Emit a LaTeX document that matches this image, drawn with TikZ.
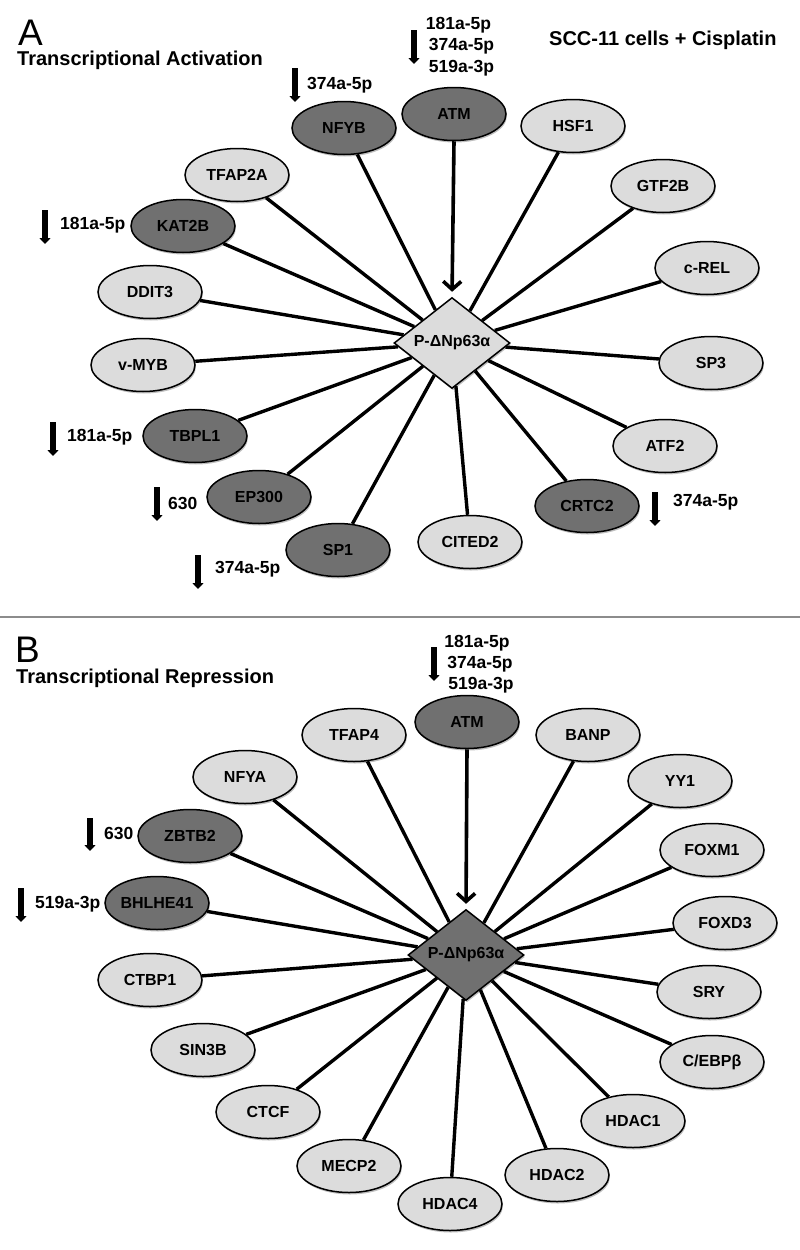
\documentclass[tikz,border=0pt]{standalone}
\usepackage{fontspec}
\setmainfont{Liberation Sans}
\usetikzlibrary{shapes.geometric,arrows.meta,shadows}
\definecolor{lightfill}{RGB}{220,220,220}
\definecolor{darkfill}{RGB}{112,112,112}
\definecolor{sepgray}{RGB}{140,140,140}
\begin{document}
\begin{tikzpicture}[x=1pt,y=-1pt,
  gene/.style={ellipse, draw=black, line width=1.5pt, minimum width=104pt, minimum height=53pt, inner sep=0pt,
    font=\fontsize{16}{19}\selectfont\bfseries,
    drop shadow={shadow xshift=1pt,shadow yshift=-2pt,opacity=0.25,fill=black}},
  genelight/.style={gene, fill=lightfill},
  genedark/.style={gene, fill=darkfill},
  hub/.style={diamond, draw=black, line width=1.5pt, minimum width=116pt, minimum height=74pt, inner sep=0pt,
    font=\fontsize{16}{19}\selectfont\bfseries,
    drop shadow={shadow xshift=1pt,shadow yshift=-2pt,opacity=0.25,fill=black}},
  conn/.style={line width=3.4pt},
  atmarrow/.style={line width=3.6pt, -{Straight Barb[length=8pt,width=18pt]}, shorten >=5pt},
  mirarr/.style={line width=5.5pt, -{Triangle[length=6pt,width=11pt]}},
  mirtxt/.style={inner sep=0pt, anchor=base west, font=\fontsize{17.5}{21}\selectfont\bfseries},
  mirstack/.style={inner sep=0pt, anchor=base, font=\fontsize{17.5}{21}\selectfont\bfseries},
  paneltitle/.style={inner sep=0pt, anchor=base west, font=\fontsize{20}{24}\selectfont\bfseries},
  panelletter/.style={inner sep=0pt, anchor=base west, font=\fontsize{37}{40}\selectfont}
]
\fill[white] (0,0) rectangle (800,1250);
\useasboundingbox (0,0) rectangle (800,1250);

% ---------------- Panel A ----------------
\node[panelletter] (letA) at (18,45) {A};
\node[paneltitle] (titA) at (17,65) {Transcriptional Activation};
\node[paneltitle] (cond) at (549,45) {SCC-11 cells + Cisplatin};

\node[hub, fill=lightfill] (dA) at (452,343) {P-ΔNp63α};

\node[genedark]  (atmA)   at (454,114) {ATM};
\node[genedark]  (nfyb)   at (344,128) {NFYB};
\node[genelight] (hsf1)   at (573,126) {HSF1};
\node[genelight] (tfap2a) at (237,175) {TFAP2A};
\node[genelight] (gtf2b)  at (663,186) {GTF2B};
\node[genedark]  (kat2b)  at (183,226) {KAT2B};
\node[genelight] (crel)   at (707,268) {c-REL};
\node[genelight] (ddit3)  at (150,292) {DDIT3};
\node[genelight] (sp3)    at (711,363) {SP3};
\node[genelight] (vmyb)   at (143,365) {v-MYB};
\node[genedark]  (tbpl1)  at (195,436) {TBPL1};
\node[genelight] (atf2)   at (665,446) {ATF2};
\node[genedark]  (ep300)  at (259,497) {EP300};
\node[genedark]  (crtc2)  at (587,506) {CRTC2};
\node[genedark]  (sp1)    at (338,550) {SP1};
\node[genelight] (cited2) at (470,542) {CITED2};

\foreach \n in {nfyb,hsf1,tfap2a,gtf2b,kat2b,crel,ddit3,sp3,vmyb,tbpl1,atf2,ep300,crtc2,sp1,cited2}
  \draw[conn] (\n) -- (dA);
\draw[atmarrow] (atmA.south) -- (dA.north);

% miRNA annotations A
\coordinate (mA1s) at (295,68);  \coordinate (mA1e) at (295,102);
\draw[mirarr] (mA1s) -- (mA1e);
\node[mirtxt] (tA1) at (307,89) {374a-5p};

\coordinate (mA2s) at (414,30);  \coordinate (mA2e) at (414,64);
\draw[mirarr] (mA2s) -- (mA2e);
\node[mirstack] (tA2a) at (458.5,29) {181a-5p};
\node[mirstack] (tA2b) at (461.5,50) {374a-5p};
\node[mirstack] (tA2c) at (461.5,72) {519a-3p};

\coordinate (mA3s) at (45,210);  \coordinate (mA3e) at (45,244);
\draw[mirarr] (mA3s) -- (mA3e);
\node[mirtxt] (tA3) at (60,229) {181a-5p};

\coordinate (mA4s) at (53,422);  \coordinate (mA4e) at (53,456);
\draw[mirarr] (mA4s) -- (mA4e);
\node[mirtxt] (tA4) at (67,441) {181a-5p};

\coordinate (mA5s) at (157,487); \coordinate (mA5e) at (157,521);
\draw[mirarr] (mA5s) -- (mA5e);
\node[mirtxt] (tA5) at (168,509) {630};

\coordinate (mA6s) at (198,555); \coordinate (mA6e) at (198,589);
\draw[mirarr] (mA6s) -- (mA6e);
\node[mirtxt] (tA6) at (215,573) {374a-5p};

\coordinate (mA7s) at (655,492); \coordinate (mA7e) at (655,526);
\draw[mirarr] (mA7s) -- (mA7e);
\node[mirtxt] (tA7) at (673,506) {374a-5p};

% separator
\coordinate (sepL) at (0,617); \coordinate (sepR) at (800,617);
\draw[sepgray, line width=1.2pt] (sepL) -- (sepR);

% ---------------- Panel B ----------------
\node[panelletter] (letB) at (15,662) {B};
\node[paneltitle] (titB) at (16,683) {Transcriptional Repression};

\node[hub, fill=darkfill] (dB) at (466,955) {P-ΔNp63α};

\node[genedark]  (atmB)    at (467,722) {ATM};
\node[genelight] (tfap4)   at (354,735) {TFAP4};
\node[genelight] (banp)    at (588,735) {BANP};
\node[genelight] (nfya)    at (245,777) {NFYA};
\node[genelight] (yy1)     at (680,781) {YY1};
\node[genedark]  (zbtb2)   at (190,836) {ZBTB2};
\node[genelight] (foxm1)   at (712,850) {FOXM1};
\node[genedark]  (bhlhe41) at (157,903) {BHLHE41};
\node[genelight] (foxd3)   at (725,923) {FOXD3};
\node[genelight] (ctbp1)   at (150,980) {CTBP1};
\node[genelight] (sry)     at (709,992) {SRY};
\node[genelight] (sin3b)   at (203,1050) {SIN3B};
\node[genelight] (cebpb)   at (712,1062) {C/EBPβ};
\node[genelight] (ctcf)    at (268,1112) {CTCF};
\node[genelight] (hdac1)   at (633,1121) {HDAC1};
\node[genelight] (mecp2)   at (349,1166) {MECP2};
\node[genelight] (hdac2)   at (557,1175) {HDAC2};
\node[genelight] (hdac4)   at (450,1204) {HDAC4};

\foreach \n in {tfap4,banp,nfya,yy1,zbtb2,foxm1,bhlhe41,foxd3,ctbp1,sry,sin3b,cebpb,ctcf,hdac1,mecp2,hdac2,hdac4}
  \draw[conn] (\n) -- (dB);
\draw[atmarrow] (atmB.south) -- (dB.north);

% miRNA annotations B
\coordinate (mB1s) at (434,647); \coordinate (mB1e) at (434,681);
\draw[mirarr] (mB1s) -- (mB1e);
\node[mirstack] (tB1a) at (477,647) {181a-5p};
\node[mirstack] (tB1b) at (480,668) {374a-5p};
\node[mirstack] (tB1c) at (481,689) {519a-3p};

\coordinate (mB2s) at (90,818);  \coordinate (mB2e) at (90,851);
\draw[mirarr] (mB2s) -- (mB2e);
\node[mirtxt] (tB2) at (104,839) {630};

\coordinate (mB3s) at (21,888);  \coordinate (mB3e) at (21,922);
\draw[mirarr] (mB3s) -- (mB3e);
\node[mirtxt] (tB3) at (35,908) {519a-3p};
\end{tikzpicture}
\end{document}
